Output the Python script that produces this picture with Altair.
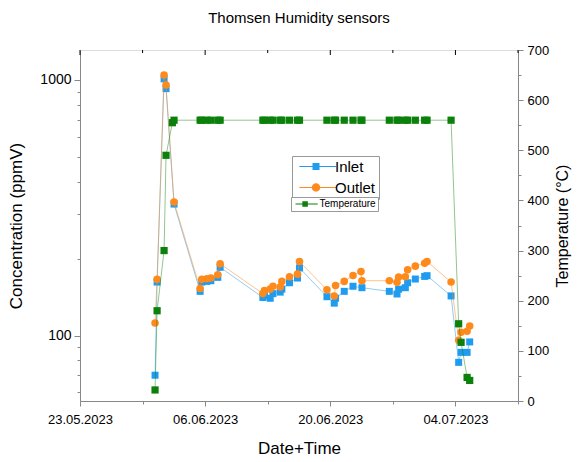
import altair as alt
import pandas as pd

FONT = "Liberation Sans"
BLUE = "#1F9CF0"
ORANGE = "#FF8A1C"
GREEN = "#0B800B"

title_text = "Thomsen Humidity sensors"
x_title = "Date+Time"
y_left_title = "Concentration (ppmV)"
y_right_title = "Temperature (°C)"

inlet_dates = [
    "2023-05-31 09:30", "2023-05-31 15:00", "2023-06-01 09:45", "2023-06-01 15:00", "2023-06-02 12:30",
    "2023-06-05 10:30", "2023-06-05 15:00", "2023-06-06 04:30", "2023-06-06 15:15", "2023-06-07 10:00", "2023-06-07 16:15",
    "2023-06-12 11:00", "2023-06-12 15:15", "2023-06-13 06:40", "2023-06-13 14:00", "2023-06-14 09:30", "2023-06-14 14:00",
    "2023-06-15 10:30", "2023-06-16 08:00", "2023-06-16 13:20",
    "2023-06-19 15:00", "2023-06-20 10:40", "2023-06-20 14:10", "2023-06-21 13:30", "2023-06-22 13:00", "2023-06-23 13:00",
    "2023-06-26 14:30", "2023-06-27 11:10", "2023-06-27 15:30", "2023-06-28 09:30", "2023-06-28 15:40", "2023-06-29 12:20",
    "2023-06-30 13:20", "2023-06-30 19:50",
    "2023-07-03 12:20", "2023-07-04 08:40", "2023-07-04 15:10", "2023-07-05 07:20", "2023-07-05 14:20",
]
inlet_vals = [
    70, 162, 1010, 925, 327,
    149, 162, 163, 164, 169, 185,
    141, 143, 140, 146, 148, 152, 161, 168, 184,
    142, 134, 140, 149, 156, 154,
    149, 145.5, 152, 154, 161, 166.5, 170.5, 171.6,
    143, 78.6, 86, 86, 94.5,
]

outlet_dates = [
    "2023-05-31 09:30", "2023-05-31 15:00", "2023-06-01 09:45", "2023-06-01 15:00", "2023-06-02 12:30",
    "2023-06-05 10:30", "2023-06-05 15:00", "2023-06-06 04:30", "2023-06-06 15:15", "2023-06-07 10:00", "2023-06-07 16:15",
    "2023-06-12 11:00", "2023-06-12 15:15", "2023-06-13 06:40", "2023-06-13 14:00", "2023-06-14 09:30", "2023-06-14 14:00",
    "2023-06-15 10:30", "2023-06-16 08:00", "2023-06-16 13:20",
    "2023-06-19 15:00", "2023-06-20 10:40", "2023-06-20 14:10", "2023-06-21 13:30", "2023-06-22 13:00", "2023-06-23 10:25",
    "2023-06-23 13:00",
    "2023-06-26 14:30", "2023-06-27 11:10", "2023-06-27 15:30", "2023-06-28 09:30", "2023-06-28 15:40", "2023-06-29 12:20",
    "2023-06-30 13:20", "2023-06-30 19:50",
    "2023-07-03 12:20", "2023-07-04 08:40", "2023-07-04 15:10", "2023-07-05 07:20", "2023-07-05 14:20",
]
outlet_vals = [
    112, 166, 1045, 955, 333,
    153, 166, 167, 168, 173, 191,
    146, 150, 152, 156, 155, 163, 170, 174, 195,
    151, 143, 157, 163, 172, 178, 164,
    164, 161.6, 169.5, 170, 181, 187, 192, 195,
    162, 96, 103, 104, 109,
]

temp_dates = [
    "2023-05-31 09:30", "2023-05-31 15:00", "2023-06-01 09:45", "2023-06-01 15:00", "2023-06-02 08:00", "2023-06-02 12:30",
    "2023-06-05 10:30", "2023-06-05 15:00", "2023-06-06 04:30", "2023-06-06 15:15", "2023-06-07 10:00", "2023-06-07 16:15",
    "2023-06-12 11:00", "2023-06-12 15:15", "2023-06-13 06:40", "2023-06-13 14:00", "2023-06-14 09:30", "2023-06-14 14:00",
    "2023-06-15 10:30", "2023-06-16 08:00", "2023-06-16 13:20",
    "2023-06-19 15:00", "2023-06-20 10:40", "2023-06-20 14:10", "2023-06-21 13:30", "2023-06-22 13:00", "2023-06-23 10:25",
    "2023-06-23 13:00",
    "2023-06-26 14:30", "2023-06-27 11:10", "2023-06-27 15:30", "2023-06-28 09:30", "2023-06-28 15:40", "2023-06-29 12:20",
    "2023-06-30 13:20", "2023-06-30 19:50",
    "2023-07-03 12:20", "2023-07-04 08:40", "2023-07-04 15:10", "2023-07-05 07:20", "2023-07-05 14:20",
]
temp_vals = [
    22, 180, 300, 490, 555, 560,
    560, 560, 560, 560, 560, 560,
    560, 560, 560, 560, 560, 560, 560, 560, 560,
    560, 560, 560, 560, 560, 560, 560,
    560, 560, 560, 560, 560, 560, 560, 560,
    560, 154, 117, 47, 41,
]

series_names = ["Inlet", "Outlet"]
temp_series_name = ["Temperature"]

major_ticks = ["2023-05-23", "2023-06-06", "2023-06-20", "2023-07-04"]
minor_ticks = ["2023-05-30", "2023-06-13", "2023-06-27", "2023-07-11"]
conc_ticks = [60, 70, 80, 90, 100, 200, 300, 400, 500, 600, 700, 800, 900, 1000]
temp_ticks = [0, 50, 100, 150, 200, 250, 300, 350, 400, 450, 500, 550, 600, 650, 700]
conc_domain = [55.5, 1310]
temp_domain = [0, 700]


def dt(s):
    y, m, d = s.split("-")
    return alt.DateTime(year=int(y), month=int(m), date=int(d))


inlet_df = pd.DataFrame({"date": inlet_dates, "value": inlet_vals})
outlet_df = pd.DataFrame({"date": outlet_dates, "value": outlet_vals})
temp_df = pd.DataFrame({"date": temp_dates, "value": temp_vals})
major_df = pd.DataFrame({"date": major_ticks})
minor_df = pd.DataFrame({"date": minor_ticks})
leg_df = pd.DataFrame({"series": series_names})
tleg_df = pd.DataFrame({"series": temp_series_name})

all_ticks = sorted(major_ticks + minor_ticks)
major_lbl = [s[8:10] + "." + s[5:7] for s in major_ticks]
x_test = "indexof(%s, timeFormat(datum.value, '%%d.%%m')) >= 0" % str(major_lbl)

x_enc = alt.X(
    "date:T",
    title=x_title,
    scale=alt.Scale(domain=[dt(all_ticks[0]), dt(all_ticks[-1])]),
    axis=alt.Axis(
        values=[dt(s) for s in all_ticks],
        format="%d.%m.%Y",
        labelExpr=x_test + " ? datum.label : ''",
        tickSize={"condition": {"test": x_test, "value": 5}, "value": 3},
        labelFontSize=13,
        titleFontSize=17,
        titleFontWeight="normal",
        labelPadding=7,
        titlePadding=14,
        labelFlush=False,
        labelOverlap=False,
        grid=False,
    ),
)

y_test = "datum.value == 100 || datum.value == 1000"
y_conc = alt.Y(
    "value:Q",
    title=y_left_title,
    scale=alt.Scale(type="log", domain=conc_domain, nice=False),
    axis=alt.Axis(
        values=conc_ticks,
        format="d",
        labelExpr=y_test + " ? datum.label : ''",
        tickSize={"condition": {"test": y_test, "value": 6}, "value": 3},
        labelFontSize=14,
        labelPadding=3,
        titleFontSize=17,
        titleFontWeight="normal",
        titlePadding=14,
        labelOverlap=False,
        grid=False,
    ),
)

t_test = "datum.value % 100 == 0"
y_temp = alt.Y(
    "value:Q",
    title=y_right_title,
    scale=alt.Scale(domain=temp_domain, nice=False, zero=False),
    axis=alt.Axis(
        orient="right",
        values=temp_ticks,
        labelExpr=t_test + " ? datum.label : ''",
        tickSize={"condition": {"test": t_test, "value": 5}, "value": 3},
        labelFontSize=13,
        labelPadding=4,
        titleFontSize=16,
        titleFontWeight="normal",
        titleAngle=270,
        titlePadding=22,
        labelOverlap=False,
        grid=False,
    ),
)

# legend symbols: line stub + marker (unit = sqrt(size)/2 px)
LINE1 = "M-0.9,-0.15H9.6V0.15H-0.9Z"
SQ1 = "M2.86,-1H4.86V1H2.86Z"
CI1 = "M2.66,0A1.2,1.2,0,1,1,5.06,0A1.2,1.2,0,1,1,2.66,0Z"
LINE2 = "M-1,-0.2H7.9V0.2H-1Z"
SQ2 = "M1.74,-1.1H3.94V1.1H1.74Z"

legend1 = alt.Legend(
    orient="none", legendX=212, legendY=106, symbolSize=49, symbolOpacity=1, symbolStrokeWidth=0,
    labelFont=FONT, labelFontSize=15, labelColor="black", labelOffset=25, padding=3, rowPadding=5,
    strokeColor="#999999", fillColor="white",
)
legend2 = alt.Legend(
    orient="none", legendX=211, legendY=147, symbolSize=25, symbolOpacity=1, symbolStrokeWidth=0,
    labelFont=FONT, labelFontSize=10, labelColor="black", labelOffset=16.5, padding=2,
    strokeColor="#999999", fillColor="white",
)

inlet_line = alt.Chart(inlet_df).mark_line(color=BLUE, strokeWidth=1, opacity=0.5).encode(x=x_enc, y=y_conc)
inlet_pts = alt.Chart(inlet_df).mark_square(color=BLUE, size=49, opacity=1).encode(x=x_enc, y=y_conc)
outlet_line = alt.Chart(outlet_df).mark_line(color=ORANGE, strokeWidth=1, opacity=0.5).encode(x=x_enc, y=y_conc)
outlet_pts = alt.Chart(outlet_df).mark_circle(color=ORANGE, size=57, opacity=1).encode(x=x_enc, y=y_conc)
major_top = alt.Chart(major_df).mark_rule(color="black", strokeWidth=1).encode(
    x=x_enc, y=alt.value(0), y2=alt.value(5))
minor_top = alt.Chart(minor_df).mark_rule(color="black", strokeWidth=1).encode(
    x=x_enc, y=alt.value(0), y2=alt.value(3))
conc_leg = alt.Chart(leg_df).mark_point(filled=True, opacity=0).encode(
    color=alt.Color("series:N", title=None, legend=legend1,
                    scale=alt.Scale(domain=series_names, range=[BLUE, ORANGE])),
    shape=alt.Shape("series:N", title=None, legend=legend1,
                    scale=alt.Scale(domain=series_names, range=[LINE1 + SQ1, LINE1 + CI1])),
)

temp_line = alt.Chart(temp_df).mark_line(color=GREEN, strokeWidth=1, opacity=0.45).encode(x=x_enc, y=y_temp)
temp_pts = alt.Chart(temp_df).mark_square(color=GREEN, size=52, opacity=1).encode(x=x_enc, y=y_temp)
temp_leg = alt.Chart(tleg_df).mark_point(filled=True, opacity=0).encode(
    color=alt.Color("series:N", title=None, legend=legend2,
                    scale=alt.Scale(domain=temp_series_name, range=[GREEN])),
    shape=alt.Shape("series:N", title=None, legend=legend2,
                    scale=alt.Scale(domain=temp_series_name, range=[LINE2 + SQ2])),
)

conc_group = alt.layer(inlet_line, inlet_pts, outlet_line, outlet_pts, major_top, minor_top, conc_leg)
temp_group = alt.layer(temp_line, temp_pts, temp_leg)

chart = (
    alt.layer(conc_group, temp_group)
    .resolve_scale(y="independent", color="independent", shape="independent")
    .properties(
        width=438,
        height=351,
        padding={"left": 72, "top": 42, "right": 54, "bottom": 57},
        autosize=alt.AutoSizeParams(type="none"),
        title=alt.TitleParams(text=title_text, font=FONT, fontSize=15, fontWeight="normal",
                              color="black", anchor="middle", offset=18),
    )
    .configure_view(stroke="black", strokeWidth=1)
    .configure_axis(
        domainColor="black", tickColor="black", labelColor="black", titleColor="black",
        labelFont=FONT, titleFont=FONT, titleFontWeight="normal", domainWidth=1, tickWidth=1,
    )
    .configure(background="white")
)

chart.save("out.html", embed_options={"renderer": "svg", "actions": False})
